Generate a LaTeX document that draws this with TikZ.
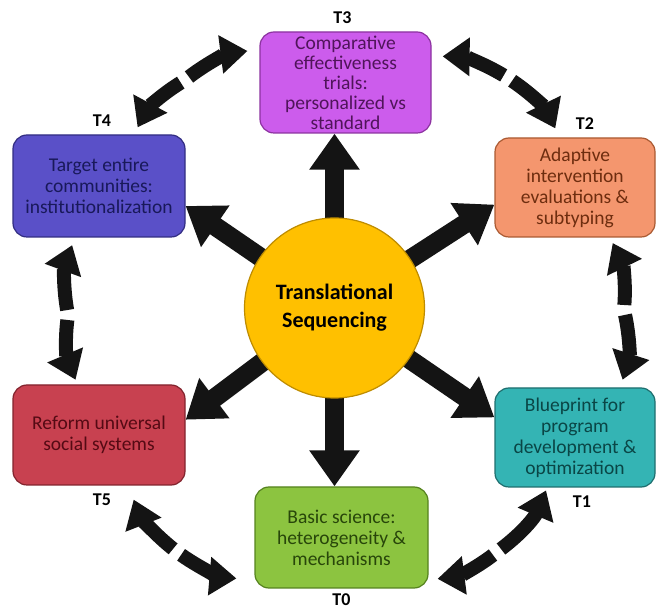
\documentclass[tikz,border=0pt]{standalone}
\usepackage{fontspec}
\setmainfont{Carlito}
\usepackage{tikz}
\usetikzlibrary{arrows.meta, positioning, backgrounds}

\definecolor{hubfill}{RGB}{255,192,0}
\definecolor{hubline}{RGB}{190,140,0}
\definecolor{arrowblack}{RGB}{20,20,20}
\definecolor{tzfill}{RGB}{140,196,64}
\definecolor{tzline}{RGB}{85,130,30}
\definecolor{tztext}{RGB}{40,70,10}
\definecolor{tofill}{RGB}{52,180,180}
\definecolor{toline}{RGB}{30,110,110}
\definecolor{totext}{RGB}{10,70,70}
\definecolor{ttfill}{RGB}{244,150,110}
\definecolor{ttline}{RGB}{170,90,50}
\definecolor{tttext}{RGB}{110,45,15}
\definecolor{thfill}{RGB}{204,92,236}
\definecolor{thline}{RGB}{140,50,160}
\definecolor{thtext}{RGB}{80,20,90}
\definecolor{tffill}{RGB}{90,80,200}
\definecolor{tfline}{RGB}{50,45,130}
\definecolor{tftext}{RGB}{25,25,90}
\definecolor{tvfill}{RGB}{200,65,80}
\definecolor{tvline}{RGB}{130,35,45}
\definecolor{tvtext}{RGB}{85,10,20}

\begin{document}
\begin{tikzpicture}[
        x=1pt, y=1pt,
        stage/.style={draw, line width=1.2pt, rounded corners=14pt, minimum width=172pt, minimum height=100pt, align=center, inner sep=2pt, font=\fontsize{19.5}{21}\selectfont},
        core/.style={circle, draw=hubline, fill=hubfill, line width=1.2pt, minimum size=180pt, align=center, font=\fontsize{22}{28}\selectfont\bfseries},
        tlabel/.style={font=\fontsize{18}{20}\selectfont\bfseries, inner sep=2pt},
        spoke/.style={draw=arrowblack, line width=19pt, -{Triangle[width=48pt,length=36pt]}},
        relay/.style={draw=arrowblack, line width=14pt, -{Triangle[width=37pt,length=27pt]}, shorten <=5pt}
    ]
        \useasboundingbox (0,0) rectangle (657,611);

        \node[core] (hub) at (334.5,303) {Translational\\Sequencing};

        \node[stage, fill=tzfill, draw=tzline, text=tztext, minimum width=173pt, minimum height=101pt] (t0) at (341.5,73.5) {Basic science:\\heterogeneity \&\\mechanisms};
        \node[stage, fill=tofill, draw=toline, text=totext, minimum width=160pt, minimum height=99pt] (t1) at (575,173.5) {Blueprint for\\program\\development \&\\optimization};
        \node[stage, fill=ttfill, draw=ttline, text=tttext, minimum width=160pt, minimum height=99pt] (t2) at (575,423.5) {Adaptive\\intervention\\evaluations \&\\subtyping};
        \node[stage, fill=thfill, draw=thline, text=thtext, minimum width=171pt, minimum height=101pt, font=\fontsize{19.5}{20}\selectfont] (t3) at (345.5,528.5) {Comparative\\effectiveness\\trials:\\personalized vs\\standard};
        \node[stage, fill=tffill, draw=tfline, text=tftext, minimum height=102pt] (t4) at (99,425) {Target entire\\communities:\\institutionalization};
        \node[stage, fill=tvfill, draw=tvline, text=tvtext] (t5) at (99,176) {Reform universal\\social systems};

        \node[tlabel, below=3pt of t0] (l0) {T0};
        \node[tlabel, below=6pt of t1, xshift=7pt] (l1) {T1};
        \node[tlabel, above=6pt of t2, xshift=10pt] (l2) {T2};
        \node[tlabel, above=6pt of t3, xshift=-3pt] (l3) {T3};
        \node[tlabel, above=6pt of t4, xshift=3pt] (l4) {T4};
        \node[tlabel, below=6pt of t5, xshift=3pt] (l5) {T5};

        \begin{scope}[on background layer]
            \draw[spoke] (hub.center) -- (hub.center |- t3.south);
            \draw[spoke] (hub.center) -- (t2.192);
            \draw[spoke] (hub.center) -- (t1.166);
            \draw[spoke] (hub.center) -- (hub.center |- t0.north);
            \draw[spoke] (hub.center) -- (t5.10);
            \draw[spoke] (hub.center) -- (t4.-13);
        \end{scope}

        \coordinate (m34) at (185,531);
        \coordinate (m23) at (508,533);
        \coordinate (m45) at (68,296);
        \coordinate (m12) at (624,301);
        \coordinate (m50) at (177,59);
        \coordinate (m01) at (497,59);

        \draw[relay, shorten >=12pt] (m34) to[bend left=15] (t3.159);
        \draw[relay, shorten >=8pt] (m34) to[bend right=15] (t4.56);
        \draw[relay, shorten >=11pt] (m23) to[bend right=15] (t3.17);
        \draw[relay, shorten >=10pt] (m23) to[bend left=15] (t2.107);
        \draw[relay, shorten >=8pt] (m45) to[bend left=15] (t4.245);
        \draw[relay, shorten >=5pt] (m45) to[bend right=15] (t5.113);
        \draw[relay, shorten >=6pt] (m12) to[bend right=15] (t2.-55);
        \draw[relay, shorten >=8pt] (m12) to[bend left=15] (t1.48);
        \draw[relay, shorten >=15pt] (m50) to[bend left=15] (t5.-60);
        \draw[relay, shorten >=18pt] (m50) to[bend right=15] (t0.206);
        \draw[relay, shorten >=3pt] (m01) to[bend right=15] (t1.241);
        \draw[relay, shorten >=9pt] (m01) to[bend left=15] (t0.-26);
    \end{tikzpicture}
\end{document}
